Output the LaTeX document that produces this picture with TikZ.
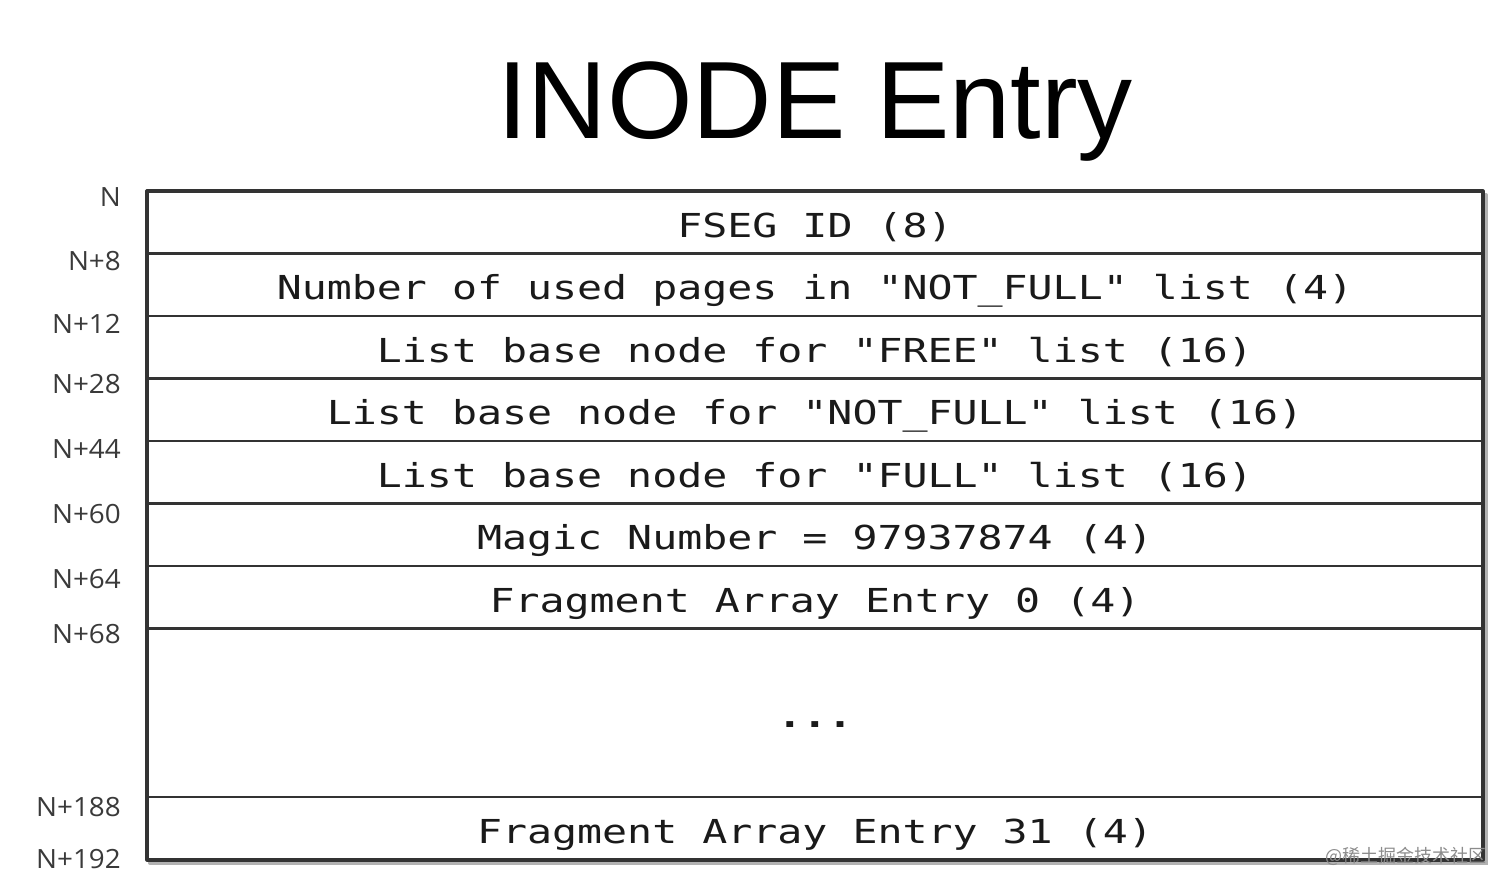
\documentclass[tikz,border=0pt]{standalone}
\usepackage{fontspec}
\usepackage{xcolor}
\usepackage{tikz}
\usetikzlibrary{calc}
\setmainfont{Liberation Sans}
\newfontfamily\titlefont{Liberation Sans}
\newfontfamily\rowfont[FakeStretch=1.26]{DejaVu Sans Mono}
\newfontfamily\offsetfont[FakeStretch=1.05]{Open Sans}
\newfontfamily\cjkfont{Noto Sans CJK SC}
\definecolor{ink}{HTML}{1A1A1A}
\definecolor{frame}{HTML}{333333}
\definecolor{muted}{HTML}{3A3A3A}
\definecolor{mark}{HTML}{8C8C8C}
\tikzset{
  rowbox/.style={draw=frame, line width=2.6pt, minimum width=1336pt, minimum height=62.5pt,
    inner sep=0pt, outer sep=0pt, text height=30pt, text depth=0pt, text=ink,
    font=\rowfont\fontsize{33}{33}\selectfont},
  offs/.style={anchor=base east, inner sep=0pt, text=muted, font=\offsetfont\fontsize{26.5}{26.5}\selectfont},
  outline/.style={draw=frame, line width=3.2pt, line join=round},
  shade/.style={draw=black, opacity=0.3, line width=4pt, line cap=round},
}

\begin{document}
\begin{tikzpicture}[x=1pt,y=-1pt]
  \useasboundingbox (0,0) rectangle (1512,891);
  \node[anchor=base, inner sep=0pt, text=black, font=\titlefont\fontsize{110}{110}\selectfont] (title) at (815,138) {INODE Entry};
  % entry rows
  \node[rowbox] (fseg) at (815,222.25) {FSEG ID (8)};
  \node[rowbox] (used) at (815,284.75) {Number of used pages in "NOT\_FULL" list (4)};
  \node[rowbox] (free) at (815,347.25) {List base node for "FREE" list (16)};
  \node[rowbox] (notfull) at (815,409.75) {List base node for "NOT\_FULL" list (16)};
  \node[rowbox] (full) at (815,472.25) {List base node for "FULL" list (16)};
  \node[rowbox] (magic) at (815,534.75) {Magic Number = 97937874 (4)};
  \node[rowbox] (frag0) at (815,597.25) {Fragment Array Entry 0 (4)};
  \node[rowbox, minimum height=168.5pt] (dots) at (815,712.75) {\bfseries ...};
  \node[rowbox, minimum height=63pt] (frag31) at (815,828.5) {Fragment Array Entry 31 (4)};
  % shadow and frame
  \draw[shade] ($(frag31.south west)+(3,3)$) -- ($(frag31.south east)+(3,3)$) -- ($(fseg.north east)+(3,4)$);
  \draw[outline] (fseg.north west) rectangle (frag31.south east);
  % byte offsets
  \node[offs] (o0) at (121,206) {N};
  \node[offs] (o8) at (121,270) {N+8};
  \node[offs] (o12) at (121,333) {N+12};
  \node[offs] (o28) at (121,393) {N+28};
  \node[offs] (o44) at (121,458) {N+44};
  \node[offs] (o60) at (121,523) {N+60};
  \node[offs] (o64) at (121,588) {N+64};
  \node[offs] (o68) at (121,643) {N+68};
  \node[offs] (o188) at (121,816) {N+188};
  \node[offs] (o192) at (121,868) {N+192};
  \node[anchor=base east, inner sep=0pt, text=mark, font=\cjkfont\fontsize{18}{18}\selectfont] (wm) at (1487,862) {@稀土掘金技术社区};
\end{tikzpicture}
\end{document}
